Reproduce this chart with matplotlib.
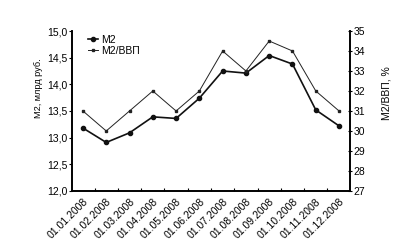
import matplotlib
matplotlib.use("Agg")
import matplotlib.pyplot as plt
import numpy as np

plt.rcParams['font.family'] = ['Liberation Sans', 'DejaVu Sans']

dates = ["01.01.2008", "01.02.2008", "01.03.2008", "01.04.2008", "01.05.2008", "01.06.2008",
         "01.07.2008", "01.08.2008", "01.09.2008", "01.10.2008", "01.11.2008", "01.12.2008"]
m2 = [13.18, 12.91, 13.09, 13.39, 13.36, 13.74, 14.25, 14.21, 14.54, 14.38, 13.52, 13.22]
m2_gdp = [31.0, 30.0, 31.0, 32.0, 31.0, 32.0, 34.0, 33.0, 34.5, 34.0, 32.0, 31.0]
left_ticks = [12.0, 12.5, 13.0, 13.5, 14.0, 14.5, 15.0]
right_ticks = [27, 28, 29, 30, 31, 32, 33, 34, 35]

fig = plt.figure(figsize=(4.0, 2.48), dpi=100)
ax = fig.add_axes([0.18, 0.23, 0.695, 0.645])
ax2 = ax.twinx()

x = np.arange(len(dates))
l1, = ax.plot(x, m2, color='#111111', lw=1.2, marker='o', ms=3, label='M2')
l2, = ax2.plot(x, m2_gdp, color='#222222', lw=0.7, marker='s', ms=1.6, label='M2/ВВП')

ax.set_xlim(-0.47, 11.47)
ax.set_ylim(12.0, 15.0)
ax2.set_ylim(27, 35)

ax.set_yticks(left_ticks)
ax.set_yticklabels([f"{v:.1f}".replace('.', ',') for v in left_ticks], fontsize=7.5)
ax2.set_yticks(right_ticks)
ax2.set_yticklabels([str(v) for v in right_ticks], fontsize=7.5)

ax.set_xticks(x)
ax.set_xticklabels(dates, rotation=45, ha='right', rotation_mode='anchor', fontsize=7.5)
ax.tick_params(axis='x', length=0, pad=4)
ax.set_xticks(np.arange(0.5, 11.0, 1.0), minor=True)
ax.tick_params(axis='x', which='minor', length=2.5, direction='in', width=0.8)
ax.tick_params(axis='y', length=2, width=0.8, direction='out', pad=1)
ax2.tick_params(axis='y', length=3, width=0.8, direction='inout', pad=1)

for a in (ax, ax2):
    a.spines['top'].set_visible(False)
    for s in ('left', 'bottom', 'right'):
        a.spines[s].set_linewidth(1.2)

ax.set_ylabel('M2, млрд руб.', fontsize=6.6, va='center', ha='center')
ax.yaxis.set_label_coords(-0.122, 0.64)
ax2.set_ylabel('M2/ВВП, %', fontsize=7.5, va='center', ha='center')
ax2.yaxis.set_label_coords(1.133, 0.61)

ax.legend(handles=[l1, l2], loc='upper left', bbox_to_anchor=(0.03, 1.02), frameon=False,
          fontsize=7.5, handlelength=1.0, handletextpad=0.3, labelspacing=0.1, borderpad=0.2)

fig.savefig('out.png', dpi=100)
